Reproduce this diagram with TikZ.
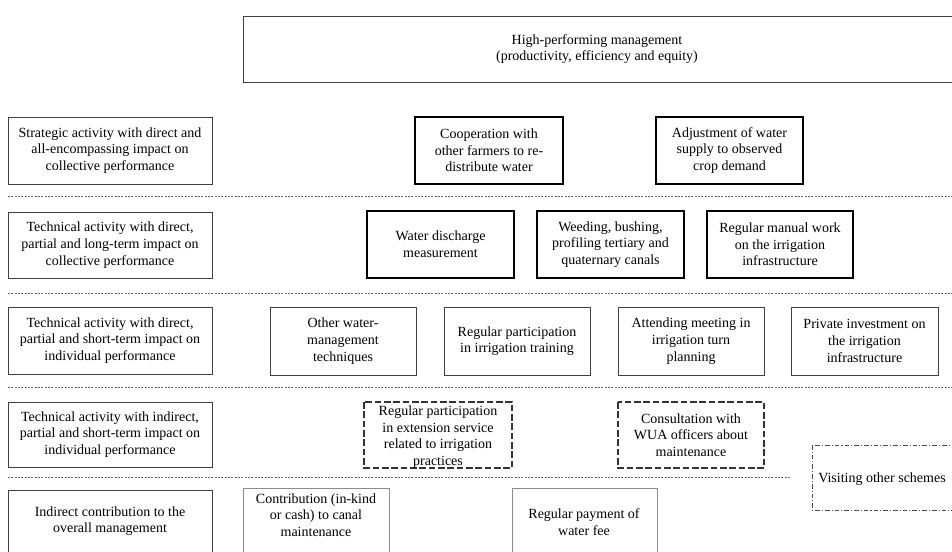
\documentclass[tikz,border=0pt]{standalone}
\usepackage{fontspec}
\setmainfont{Liberation Serif}
\usepackage{tikz}

\tikzset{
    cellbox/.style={draw=black!75, line width=0.7pt},
    lightbox/.style={draw=black!45, line width=0.7pt},
    strongbox/.style={draw=black, line width=1.6pt},
    midbox/.style={draw=black, line width=1.2pt},
    dashbox/.style={draw=black!80, line width=0.8pt, dash pattern=on 5pt off 2pt},
    dotdashbox/.style={draw=black!70, line width=0.6pt, dash pattern=on 3.5pt off 1.5pt on 0.8pt off 1.5pt},
    levelsep/.style={draw=black!60, line width=0.6pt, dash pattern=on 1.6pt off 0.9pt},
    label/.style={align=center, font=\fontsize{10.5}{12.5}\selectfont, inner sep=0pt}
}

\begin{document}
\begin{tikzpicture}[x=0.75pt, y=-0.75pt]
    \clip (0,0) rectangle (952,551);

    % goal
    \draw[cellbox] (243,16) rectangle (960,82);
    \node[label] (goal) at (597,49) {High-performing management\\(productivity, efficiency and equity)};

    % levels on the left
    \draw[cellbox] (8,117) rectangle (212,184) node[midway, label] (strategic) {Strategic activity with direct and\\all-encompassing impact on\\collective performance};
    \draw[cellbox] (8,212) rectangle (212,278) node[midway, label] (techlong) {Technical activity with direct,\\partial and long-term impact on\\collective performance};
    \draw[cellbox] (8,307) rectangle (212,374) node[midway, label] (techshort) {Technical activity with direct,\\partial and short-term impact on\\individual performance};
    \draw[cellbox] (8,402) rectangle (212,467) node[midway, label] (techindirect) {Technical activity with indirect,\\partial and short-term impact on\\individual performance};
    \draw[cellbox] (8,490) rectangle (212,590);
    \node[label] (contrib) at (110,521) {Indirect contribution to the\\overall management};

    % separators
    \coordinate (s1a) at (8,196);   \coordinate (s1b) at (952,196);
    \coordinate (s2a) at (8,293);   \coordinate (s2b) at (952,293);
    \coordinate (s3a) at (8,387);   \coordinate (s3b) at (952,387);
    \coordinate (s4a) at (8,477);   \coordinate (s4b) at (790,477);
    \draw[levelsep] (s1a) -- (s1b);
    \draw[levelsep] (s2a) -- (s2b);
    \draw[levelsep] (s3a) -- (s3b);
    \draw[levelsep] (s4a) -- (s4b);

    % strategic activities
    \draw[strongbox] (415,117) rectangle (563,184) node[midway, label] (coop) {Cooperation with\\other farmers to re-\\distribute water};
    \draw[strongbox] (656,117) rectangle (803,184) node[midway, label] (adjust) {Adjustment of water\\supply to observed\\crop demand};

    % technical, collective
    \draw[midbox] (367,211) rectangle (514,278) node[midway, label] (discharge) {Water discharge\\measurement};
    \draw[midbox] (537,211) rectangle (684,278) node[midway, label] (weeding) {Weeding, bushing,\\profiling tertiary and\\quaternary canals};
    \draw[midbox] (707,211) rectangle (853,278) node[midway, label] (manual) {Regular manual work\\on the irrigation\\infrastructure};

    % technical, individual
    \draw[cellbox] (270,307) rectangle (416,375) node[midway, label] (othertech) {Other water-\\management\\techniques};
    \draw[cellbox] (444,307) rectangle (590,375) node[midway, label] (training) {Regular participation\\in irrigation training};
    \draw[cellbox] (618,307) rectangle (764,375) node[midway, label] (meeting) {Attending meeting in\\irrigation turn\\planning};
    \draw[cellbox] (791,307) rectangle (938,375) node[midway, label] (invest) {Private investment on\\the irrigation\\infrastructure};

    % technical, indirect
    \draw[dashbox] (364,402) rectangle (512,468);
    \node[label] (extension) at (438,437) {Regular participation\\in extension service\\related to irrigation\\practices};
    \draw[dashbox] (618,402) rectangle (764,468) node[midway, label] (consult) {Consultation with\\WUA officers about\\maintenance};
    \draw[dotdashbox] (812,445) rectangle (970,510);
    \node[label] (visit) at (882,479) {Visiting other schemes};

    % indirect contribution
    \draw[lightbox] (243,488) rectangle (389,590);
    \node[label] (canal) at (316,515) {Contribution (in-kind\\or cash) to canal\\maintenance};
    \draw[lightbox] (512,488) rectangle (657,590);
    \node[label] (fee) at (584,522) {Regular payment of\\water fee};
\end{tikzpicture}
\end{document}
